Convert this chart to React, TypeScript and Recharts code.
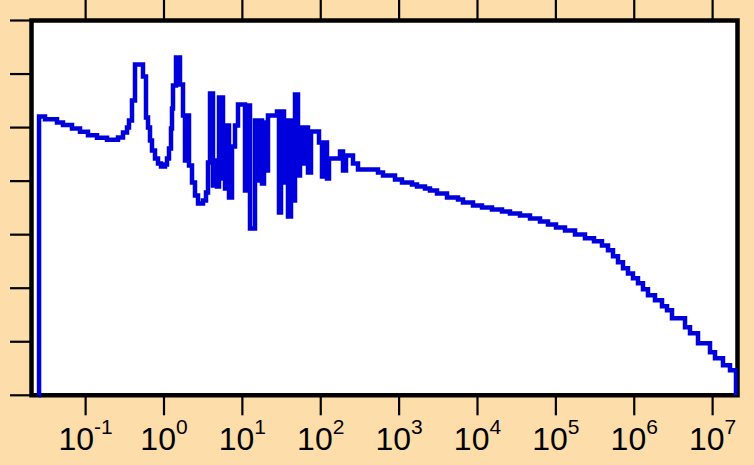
import React from 'react';
import { LineChart, Line, XAxis, YAxis, CartesianGrid, ReferenceArea } from 'recharts';

// Frequency (left edge of each step) and the level held until the next step.
const freq = [
  0.0254, 0.02545, 0.03032, 0.04313, 0.05143, 0.06702, 0.08478, 0.1072, 0.1397, 0.1874,
  0.2588, 0.2998, 0.3373, 0.3576, 0.3905, 0.4266, 0.5395, 0.5892, 0.6251, 0.6628,
  0.7028, 0.7676, 0.8385, 0.9157, 1.03, 1.092, 1.158, 1.228, 1.265, 1.303,
  1.423, 1.6, 1.748, 1.853, 1.966, 2.084, 2.277, 2.486, 2.716, 3.145,
  3.435, 3.643, 3.864, 4.22, 4.474, 4.746, 5.033, 5.659, 6.002, 6.366,
  6.752, 7.373, 8.053, 8.796, 10.8, 11.46, 12.51, 14.49, 15.83, 16.79,
  17.8, 18.88, 20.02, 21.23, 27.66, 29.33, 31.11, 33.97, 36.03, 38.2,
  41.73, 44.25, 46.94, 51.25, 54.35, 59.36, 62.95, 68.76, 75.09, 94.99,
  103.7, 113.3, 120.1, 127.4, 176.1, 192.3, 210.0, 257.9, 298.8, 537.7,
  622.8, 886.0, 1088, 1460, 1691, 2138, 2477, 3043, 4082, 5639,
  6531, 8764, 11414, 15311, 20542, 25981, 34853, 46759, 62720, 79330,
  100370, 130750, 175390, 235270, 306560, 387700, 462620, 535760, 620440, 718530,
  832140, 963690, 1116100, 1292500, 1496900, 1840000, 2260000, 2618000, 3032000, 4443000,
  5145000, 6510000, 9259000, 10723000, 13565000, 16664000, 19871000,
];

const level = [
  0, 5.208, 5.158, 5.096, 5.046, 4.984, 4.922, 4.859, 4.81, 4.773,
  4.816, 4.909, 5.003, 5.133, 5.507, 6.179, 5.955, 5.189, 5.003, 4.76,
  4.573, 4.424, 4.331, 4.275, 4.312, 4.424, 4.611, 4.984, 5.357, 5.787,
  6.309, 5.805, 5.227, 4.387, 5.227, 4.293, 3.976, 3.733, 3.584, 3.64,
  3.789, 4.349, 5.637, 3.92, 4.387, 3.901, 5.563, 4.051, 3.864, 5.04,
  3.696, 4.648, 5.04, 5.432, 3.827, 5.413, 3.117, 5.133, 4.013, 5.133,
  3.957, 5.096, 4.2, 5.227, 5.301, 3.416, 5.301, 3.976, 5.133, 3.341,
  5.133, 3.64, 5.619, 4.107, 5.003, 4.331, 5.003, 4.163, 4.928, 4.723,
  4.088, 4.723, 4.051, 4.424, 4.555, 4.2, 4.48, 4.331, 4.219, 4.163,
  4.107, 4.032, 3.976, 3.939, 3.901, 3.864, 3.827, 3.771, 3.696, 3.659,
  3.603, 3.547, 3.509, 3.472, 3.435, 3.397, 3.36, 3.304, 3.248, 3.192,
  3.136, 3.08, 3.005, 2.931, 2.875, 2.8, 2.707, 2.595, 2.483, 2.371,
  2.277, 2.184, 2.091, 1.979, 1.867, 1.773, 1.661, 1.587, 1.437, 1.269,
  1.157, 0.971, 0.803, 0.691, 0.56, 0.467, 0,
];

const decadeTicks = [0.1, 1, 10, 100, 1e3, 1e4, 1e5, 1e6, 1e7];
const decadeExponents = ['-1', '0', '1', '2', '3', '4', '5', '6', '7'];
const levelTicks = [0, 1, 2, 3, 4, 5, 6, 7];

const X_MIN = 0.02039;
const X_MAX = 2.077e7;
const Y_MIN = 0;
const Y_MAX = 7;

const rows = freq.map((f, i) => ({ f, v: level[i] }));

const FONT = "'Liberation Sans', Arial, Helvetica, sans-serif";
const LABEL_BASELINE = 449.5;

const DecadeLabel = (props: any) => {
  const { x, payload } = props;
  const idx = decadeTicks.indexOf(payload.value);
  const exp = idx >= 0 ? decadeExponents[idx] : '';
  return (
    <text x={x} y={LABEL_BASELINE} textAnchor="middle" fontFamily={FONT} fontSize={32} fill="#000">
      <tspan>10</tspan>
      <tspan dy={-15.5} fontSize={21}>{exp}</tspan>
    </text>
  );
};

const NoLabel = () => <g />;

const tickStroke = { stroke: '#000', strokeWidth: 2.2 };

export default function App() {
  return (
    <div style={{ position: 'absolute', left: 0, top: 0, width: 754, height: 465, background: '#FDDEAA' }}>
      <LineChart
        width={754}
        height={465}
        data={rows}
        margin={{ top: 0, right: 0, bottom: 0, left: 0 }}
      >
        <CartesianGrid horizontal={false} vertical={false} fill="#ffffff" xAxisId="bottom" yAxisId="left" />
        <XAxis
          xAxisId="bottom"
          dataKey="f"
          type="number"
          scale="log"
          domain={[X_MIN, X_MAX]}
          allowDataOverflow
          ticks={decadeTicks}
          interval={0}
          orientation="bottom"
          height={69.7}
          axisLine={false}
          tickLine={tickStroke}
          tickSize={20}
          tick={DecadeLabel}
        />
        <XAxis
          xAxisId="top"
          dataKey="f"
          type="number"
          scale="log"
          domain={[X_MIN, X_MAX]}
          allowDataOverflow
          ticks={decadeTicks}
          interval={0}
          orientation="top"
          height={20.5}
          axisLine={false}
          tickLine={tickStroke}
          tickSize={21}
          tick={NoLabel}
        />
        <YAxis
          yAxisId="left"
          type="number"
          domain={[Y_MIN, Y_MAX]}
          ticks={levelTicks}
          interval={0}
          orientation="left"
          width={31.5}
          axisLine={false}
          tickLine={tickStroke}
          tickSize={21.5}
          tick={NoLabel}
        />
        <YAxis
          yAxisId="right"
          type="number"
          domain={[Y_MIN, Y_MAX]}
          ticks={levelTicks}
          interval={0}
          orientation="right"
          width={16.5}
          axisLine={false}
          tickLine={tickStroke}
          tickSize={17}
          tick={NoLabel}
        />
        <Line
          xAxisId="bottom"
          yAxisId="left"
          dataKey="v"
          type="stepAfter"
          stroke="#0000DD"
          strokeWidth={4.5}
          strokeLinejoin="miter"
          dot={false}
          activeDot={false}
          isAnimationActive={false}
        />
        <ReferenceArea
          xAxisId="bottom"
          yAxisId="left"
          x1={X_MIN}
          x2={X_MAX}
          y1={Y_MIN}
          y2={Y_MAX}
          fill="none"
          stroke="#000"
          strokeWidth={4.5}
          ifOverflow="visible"
        />
      </LineChart>
    </div>
  );
}
